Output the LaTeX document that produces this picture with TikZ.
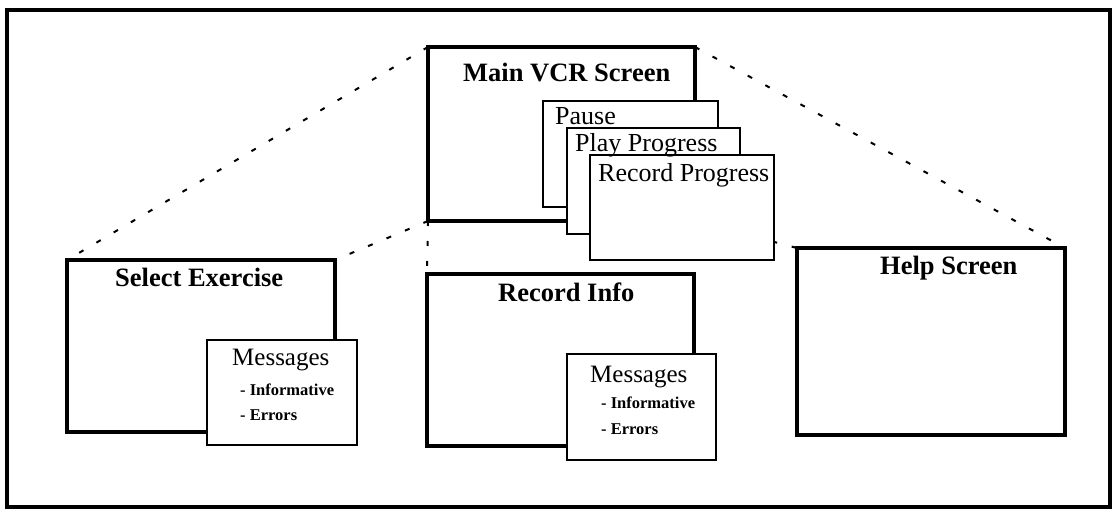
\documentclass[tikz,border=0pt]{standalone}
\usepackage{fontspec}
\setmainfont{Liberation Serif}
\usetikzlibrary{backgrounds}

\tikzset{
  screen/.style={draw, fill=white, line width=3.4pt, inner sep=0pt, outer sep=0pt,
                 anchor=north west, rectangle},
  panel/.style={draw, fill=white, line width=1.8pt, inner sep=0pt, outer sep=0pt,
                anchor=north west, rectangle},
  title/.style={anchor=base west, inner sep=0pt, font=\fontsize{26.5}{30}\selectfont\bfseries},
  label/.style={anchor=base west, inner sep=0pt, font=\fontsize{26}{30}\selectfont},
  msghead/.style={anchor=base west, inner sep=0pt, font=\fontsize{25}{29}\selectfont},
  msgitem/.style={anchor=base west, inner sep=0pt, font=\fontsize{16.5}{19}\selectfont\bfseries},
  link/.style={line width=2pt, dash pattern=on 5pt off 15pt}
}

\begin{document}
\begin{tikzpicture}[x=1pt, y=-1pt]
  \useasboundingbox (0,0) rectangle (1113,510);

  % outer frame
  \draw[line width=3.6pt] (7,10) rectangle (1110,507);

  % main VCR screen with its stacked pop-up panels
  \node[screen, minimum width=267pt, minimum height=174pt] (main) at (428,47) {};
  \node[panel, minimum width=175pt, minimum height=106pt] (pause) at (543,101) {};
  \node[panel, minimum width=173pt, minimum height=106pt] (play) at (567,128) {};
  \node[panel, minimum width=184pt, minimum height=105pt] (rec) at (590,155) {};

  \node[title] (maint) at (463,82) {Main VCR Screen};
  \node[label] (pauset) at (555,125) {Pause};
  \node[label] (playt) at (575,152) {Play Progress};
  \node[label] (rect) at (598,182) {Record Progress};

  % select exercise screen
  \node[screen, minimum width=268pt, minimum height=172pt] (sel) at (67,260) {};
  \node[panel, minimum width=150pt, minimum height=105pt] (msga) at (207,340) {};
  \node[title] (selt) at (115,287) {Select Exercise};
  \node[msghead] (msgat) at (232,366) {Messages};
  \node[msgitem] (msgai) at (240,395) {- Informative};
  \node[msgitem] (msgae) at (240,420) {- Errors};

  % record info screen
  \node[screen, minimum width=267pt, minimum height=172pt] (info) at (427,274) {};
  \node[panel, minimum width=149pt, minimum height=106pt] (msgb) at (567,354) {};
  \node[title] (infot) at (498,302) {Record Info};
  \node[msghead] (msgbt) at (590,382) {Messages};
  \node[msgitem] (msgbi) at (601,408) {- Informative};
  \node[msgitem] (msgbe) at (601,434) {- Errors};

  % help screen
  \node[screen, minimum width=268pt, minimum height=187pt] (help) at (797,248) {};
  \node[title] (helpt) at (880,275) {Help Screen};

  % dashed links from the main screen to the sub-screens
  \begin{scope}[on background layer]
    \draw[link] (main.north west) -- (sel.north west);
    \draw[link] (main.south west) -- (sel.north east);
    \draw[link] (main.south west) -- (info.north west);
    \draw[link] (main.south east) -- (help.north west);
    \draw[link] (main.north east) -- (help.north east);
  \end{scope}
\end{tikzpicture}
\end{document}
